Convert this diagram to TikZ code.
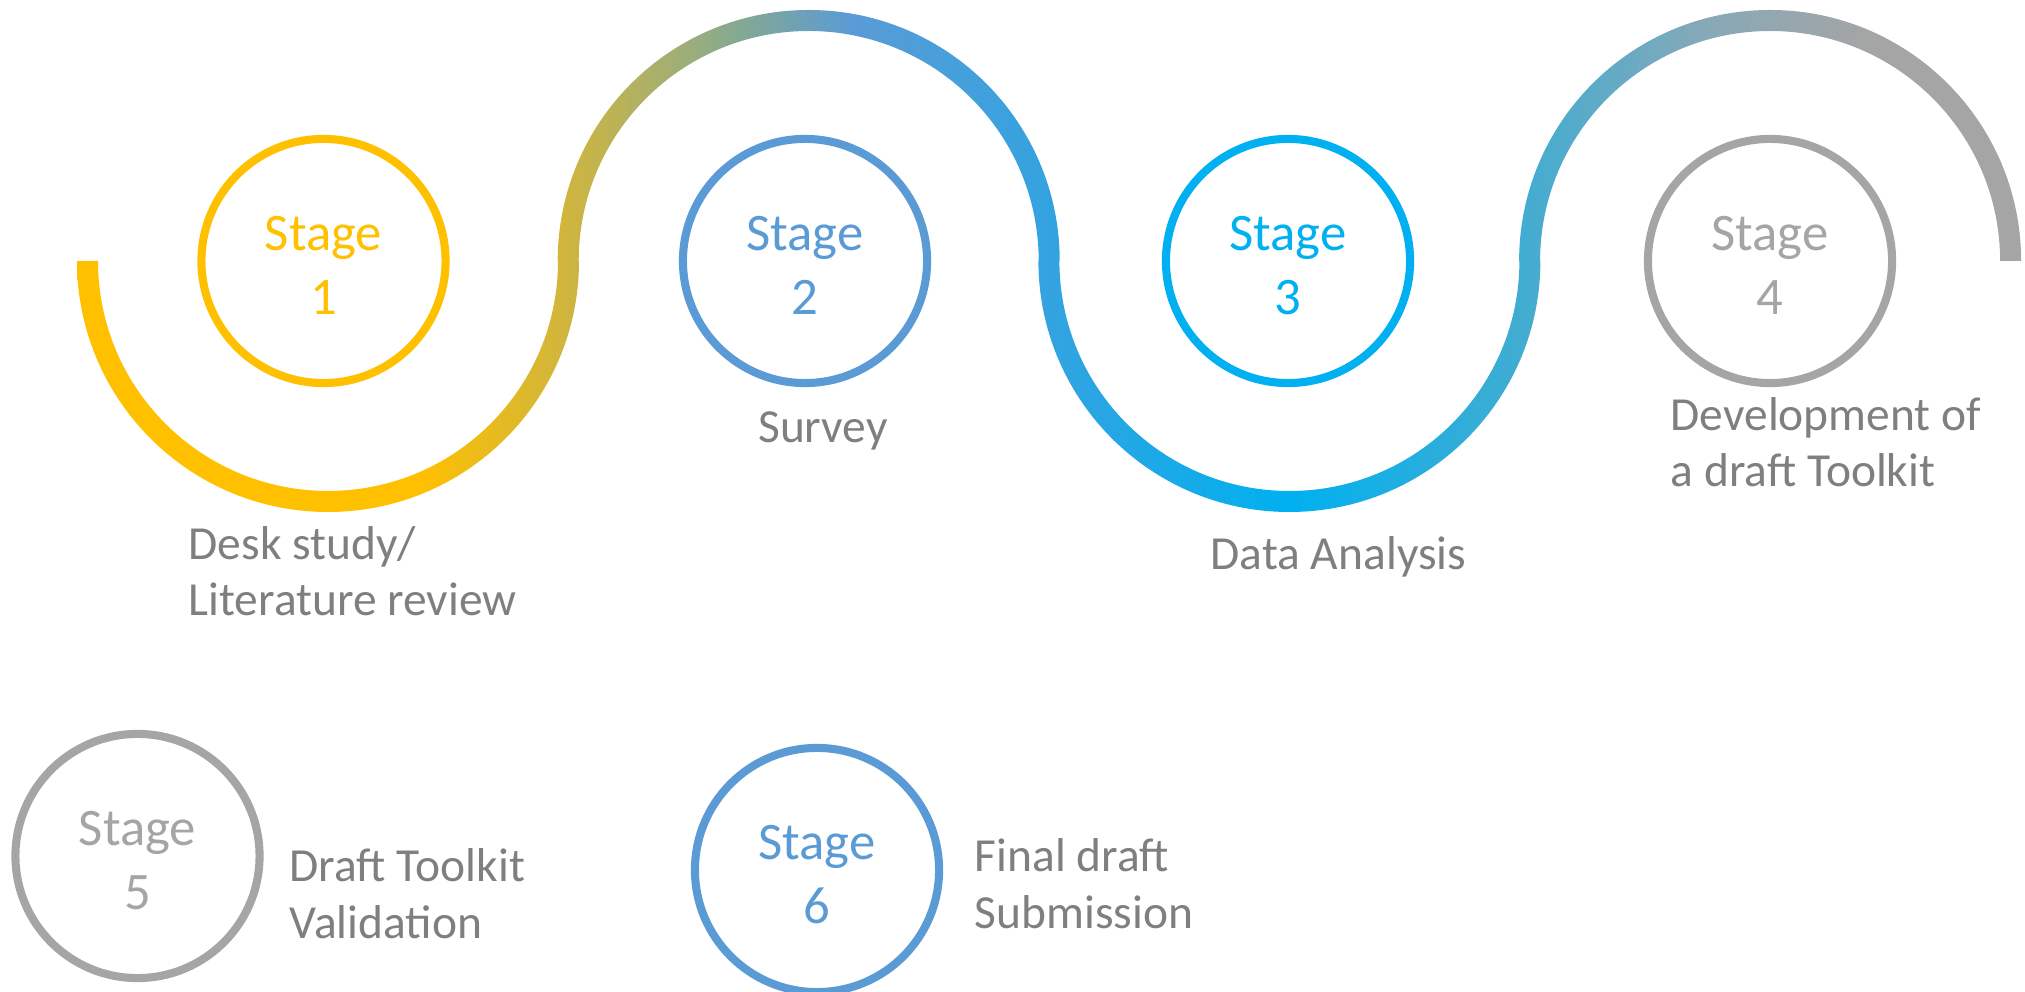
\documentclass[tikz,border=0pt]{standalone}
\usepackage{fontspec}
\setmainfont{Carlito}
\usepackage{tikz}
\definecolor{SY}{HTML}{FFC000}% stage yellow
\definecolor{SB}{HTML}{5B9BD5}% stage blue
\definecolor{SC}{HTML}{00B0F0}% stage cyan
\definecolor{SG}{HTML}{A5A5A5}% stage gray
\definecolor{TXT}{HTML}{7F7F7F}
\definecolor{W1}{HTML}{CFB53F}
\definecolor{W2}{HTML}{97AD80}
\definecolor{W3}{HTML}{80A798}
\definecolor{W4}{HTML}{33A3E0}
\definecolor{W5}{HTML}{45ACD0}
\definecolor{W6}{HTML}{85A9B8}
% colour along the wave, left to right (centre 50bp is the part that is used)
\pgfdeclarehorizontalshading{wave}{100bp}{%
  color(0bp)=(SY); color(25bp)=(SY); color(33.8bp)=(SY);
  color(37.65bp)=(W1); color(41bp)=(W2); color(42.3bp)=(W3);
  color(44.9bp)=(SB); color(50bp)=(W4); color(56.2bp)=(SC);
  color(62.4bp)=(W5); color(66.75bp)=(W6); color(71.1bp)=(SG);
  color(100bp)=(SG)}
\tikzset{
  STG/.style={% Style for the stage rings
      circle,
      line width=2.3pt,
      minimum size=2.44cm,
      inner sep=0pt,
      align=center,
      text height=1.075cm, % pushes the two lines a little down
      font=\fontsize{15}{18.2}\selectfont,
  },
  LBL/.style={% Style for the text beside a ring (placed at its last baseline)
      anchor=base west,
      align=left,
      inner sep=0pt,
      text=TXT,
      font=\fontsize{13.5}{16.2}\selectfont,
  }
}
\def\stage(#1)#2[#3]{% ring at #1 with number #2 in colour #3
  \node[STG, draw=#3, text=#3] (S#2) at (#1) {Stage\\#2};
}

\begin{document}
\begin{tikzpicture}[x=0.01cm, y=0.01cm]
    \useasboundingbox (0,0) rectangle (2025,991);
    % the wave: four half rings, shaded as one piece
    \begin{scope}
      \clip \foreach \cx/\a in {328/180, 808.7/0, 1289.4/180, 1770.1/0}{%
          (\cx,730) ++(\a:251) arc[start angle=\a, delta angle=180, radius=251]
          -- ++(\a:21) arc[start angle=\a+180, delta angle=-180, radius=230] -- cycle
        };
      \shade[shading=wave] (77,0) rectangle (2021.1,991);
    \end{scope}
    \stage(323.5,730){1}[SY]
    \stage(805,730){2}[SB]
    \stage(1288,730){3}[SC]
    \stage(1770,730){4}[SG]
    \stage(137.5,135){5}[SG]
    \stage(817,121){6}[SB]
    \node[LBL] (L1) at (188,375) {Desk study/\\Literature review};
    \node[LBL] (L2) at (757.5,548) {Survey};
    \node[LBL] (L3) at (1210,421) {Data Analysis};
    \node[LBL] (L4) at (1670,504) {Development of\\a draft Toolkit};
    \node[LBL] (L5) at (289,53) {Draft Toolkit\\Validation};
    \node[LBL] (L6) at (974,63) {Final draft\\Submission};
\end{tikzpicture}
\end{document}
